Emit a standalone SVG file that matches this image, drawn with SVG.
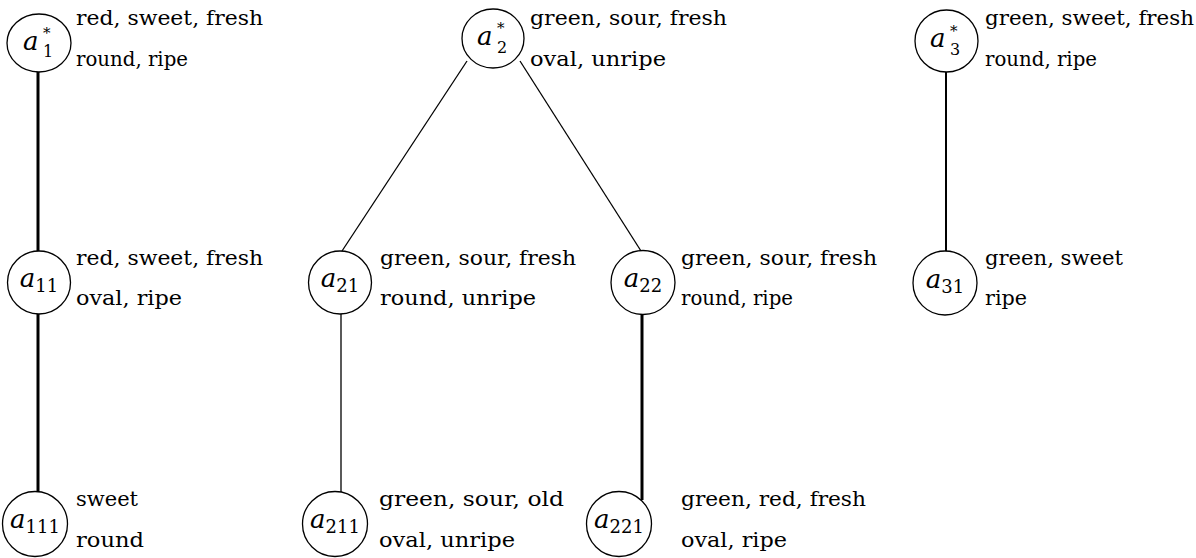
<svg xmlns="http://www.w3.org/2000/svg" width="1196" height="558" viewBox="0 0 1196 558">
<style>
.n{fill:#fff;stroke:#000;stroke-width:1.3}
.t{font-family:"DejaVu Serif","Liberation Serif",serif;font-size:20px;fill:#000}
.m{font-family:"DejaVu Serif","Liberation Serif",serif;font-style:italic;font-size:26px;fill:#000}
.s{font-family:"DejaVu Serif","Liberation Serif",serif;font-style:normal;font-size:18px}
.sb{font-family:"DejaVu Serif","Liberation Serif",serif;font-style:normal;font-size:16px}
.st{font-family:"DejaVu Serif","Liberation Serif",serif;font-style:normal;font-size:15px}
.thick{stroke:#000;stroke-width:3;fill:none}
.thin{stroke:#000;stroke-width:1.3;fill:none}
</style>
<rect width="1196" height="558" fill="#fff"/>
<g id="connectors">
<line class="thick" x1="38" y1="71" x2="38" y2="251"/>
<line class="thick" x1="38" y1="314" x2="38" y2="492"/>
<line class="thin" x1="467" y1="61" x2="342" y2="251"/>
<line class="thin" x1="520" y1="61" x2="641" y2="251"/>
<line class="thin" x1="341" y1="314" x2="341" y2="492"/>
<line class="thick" x1="642" y1="315" x2="642" y2="500"/>
<line class="thin" style="stroke-width:2" x1="946" y1="72" x2="946" y2="251"/>
</g>
<g id="a1star">
<ellipse class="n" cx="39" cy="43" rx="32" ry="29"/>
<text class="m" x="23" y="50">a<tspan class="st" x="43" y="38">*</tspan><tspan class="sb" x="43" y="57">1</tspan></text>
<text class="t" x="76" y="25" textLength="187" lengthAdjust="spacingAndGlyphs">red, sweet, fresh</text>
<text class="t" x="76" y="66" textLength="112" lengthAdjust="spacingAndGlyphs">round, ripe</text>
</g>
<g id="a2star">
<ellipse class="n" cx="493" cy="38.5" rx="31" ry="29.5"/>
<text class="m" x="477" y="45">a<tspan class="st" x="497" y="33">*</tspan><tspan class="sb" x="497" y="52.5">2</tspan></text>
<text class="t" x="530" y="25" textLength="197" lengthAdjust="spacingAndGlyphs">green, sour, fresh</text>
<text class="t" x="530" y="66" textLength="136" lengthAdjust="spacingAndGlyphs">oval, unripe</text>
</g>
<g id="a3star">
<ellipse class="n" cx="946.5" cy="41" rx="31.5" ry="31"/>
<text class="m" x="930" y="47">a<tspan class="st" x="950" y="36">*</tspan><tspan class="sb" x="950" y="55">3</tspan></text>
<text class="t" x="985" y="25" textLength="209" lengthAdjust="spacingAndGlyphs">green, sweet, fresh</text>
<text class="t" x="985" y="66" textLength="112" lengthAdjust="spacingAndGlyphs">round, ripe</text>
</g>
<g id="a11">
<circle class="n" cx="39" cy="282.5" r="31.5"/>
<text class="m" x="39" y="287" text-anchor="middle">a<tspan class="s" dy="5">11</tspan></text>
<text class="t" x="76" y="265" textLength="187" lengthAdjust="spacingAndGlyphs">red, sweet, fresh</text>
<text class="t" x="76" y="305" textLength="106" lengthAdjust="spacingAndGlyphs">oval, ripe</text>
</g>
<g id="a21">
<circle class="n" cx="340" cy="282.5" r="31.5"/>
<text class="m" x="340" y="287" text-anchor="middle">a<tspan class="s" dy="5">21</tspan></text>
<text class="t" x="380" y="265" textLength="196" lengthAdjust="spacingAndGlyphs">green, sour, fresh</text>
<text class="t" x="380" y="305" textLength="156" lengthAdjust="spacingAndGlyphs">round, unripe</text>
</g>
<g id="a22">
<circle class="n" cx="643" cy="282.5" r="32"/>
<text class="m" x="643" y="287" text-anchor="middle">a<tspan class="s" dy="5">22</tspan></text>
<text class="t" x="681" y="265" textLength="196" lengthAdjust="spacingAndGlyphs">green, sour, fresh</text>
<text class="t" x="681" y="305" textLength="112" lengthAdjust="spacingAndGlyphs">round, ripe</text>
</g>
<g id="a31">
<circle class="n" cx="945" cy="283" r="32"/>
<text class="m" x="945" y="288" text-anchor="middle">a<tspan class="s" dy="5">31</tspan></text>
<text class="t" x="985" y="265" textLength="138" lengthAdjust="spacingAndGlyphs">green, sweet</text>
<text class="t" x="985" y="305" textLength="42" lengthAdjust="spacingAndGlyphs">ripe</text>
</g>
<g id="a111">
<circle class="n" cx="35" cy="524" r="32.5"/>
<text class="m" x="35" y="528" text-anchor="middle">a<tspan class="s" dy="5">111</tspan></text>
<text class="t" x="76" y="506" textLength="62" lengthAdjust="spacingAndGlyphs">sweet</text>
<text class="t" x="76" y="547" textLength="68" lengthAdjust="spacingAndGlyphs">round</text>
</g>
<g id="a211">
<circle class="n" cx="335" cy="524" r="32.5"/>
<text class="m" x="335" y="528" text-anchor="middle">a<tspan class="s" dy="5">211</tspan></text>
<text class="t" x="379" y="506" textLength="185" lengthAdjust="spacingAndGlyphs">green, sour, old</text>
<text class="t" x="379" y="547" textLength="136" lengthAdjust="spacingAndGlyphs">oval, unripe</text>
</g>
<g id="a221">
<circle class="n" cx="619" cy="524" r="32.5"/>
<text class="m" x="619" y="528" text-anchor="middle">a<tspan class="s" dy="5">221</tspan></text>
<text class="t" x="681" y="506" textLength="185" lengthAdjust="spacingAndGlyphs">green, red, fresh</text>
<text class="t" x="681" y="547" textLength="106" lengthAdjust="spacingAndGlyphs">oval, ripe</text>
</g>
</svg>
